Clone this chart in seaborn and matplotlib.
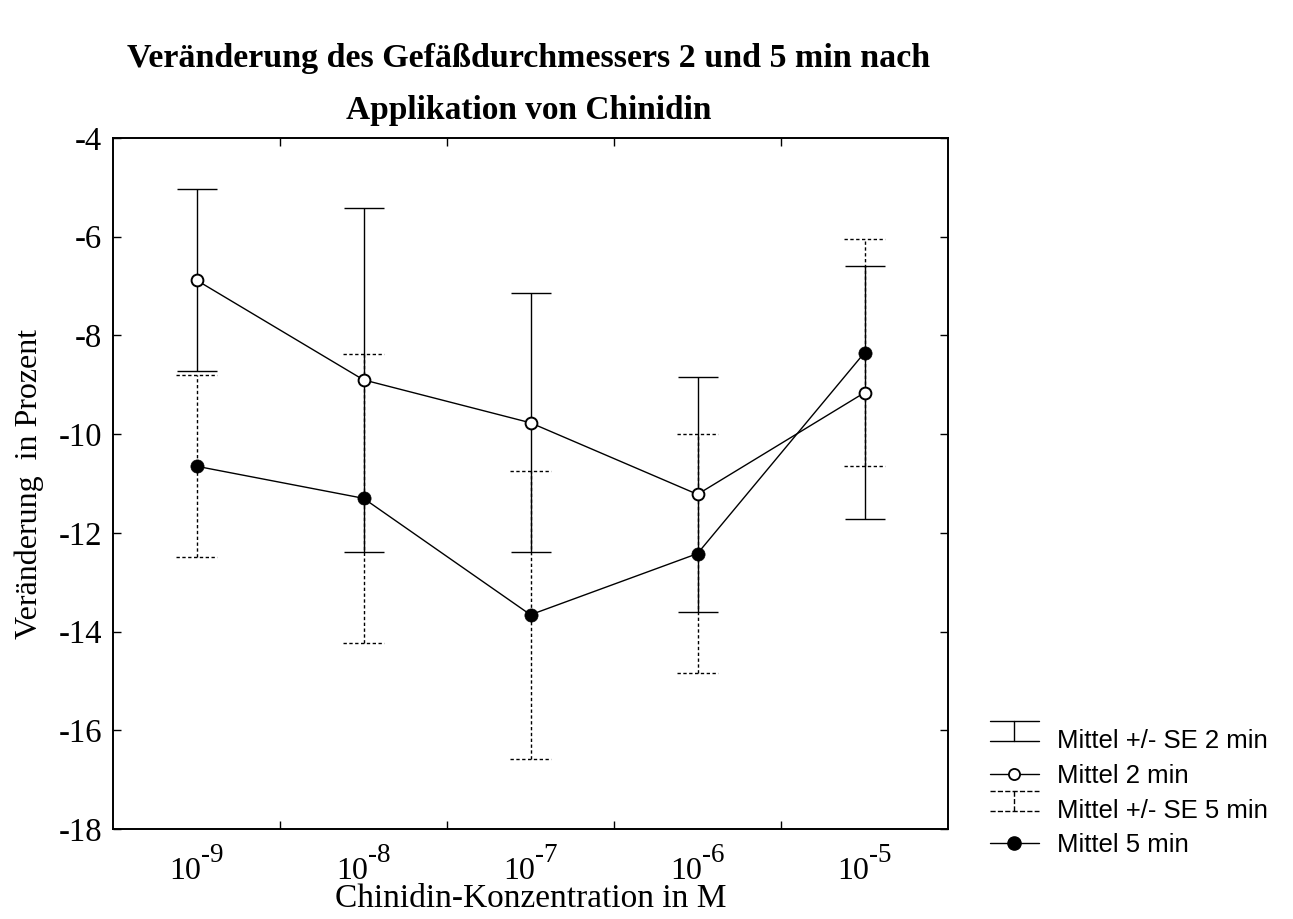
import numpy as np
import pandas as pd
import matplotlib
matplotlib.use("Agg")
import matplotlib.pyplot as plt
import seaborn as sns
from matplotlib.lines import Line2D
from matplotlib.legend_handler import HandlerBase

# ---- data ----
conc_base = ["10", "10", "10", "10", "10"]
conc_exp = ["-9", "-8", "-7", "-6", "-5"]
mean_2min = [-6.88, -8.90, -9.77, -11.22, -9.16]
se_2min = [1.85, 3.48, 2.62, 2.38, 2.56]
mean_5min = [-10.65, -11.30, -13.66, -12.42, -8.35]
se_5min = [1.84, 2.93, 2.92, 2.42, 2.30]
yticks = [-18, -16, -14, -12, -10, -8, -6, -4]

title_lines = ["Veränderung des Gefäßdurchmessers 2 und 5 min nach",
               "Applikation von Chinidin"]
xlabel = "Chinidin-Konzentration in M"
ylabel = "Veränderung  in Prozent"
legend_labels = ["Mittel +/- SE 2 min", "Mittel 2 min",
                 "Mittel +/- SE 5 min", "Mittel 5 min"]

sns.set_style("ticks")
plt.rcParams["font.family"] = ["Liberation Serif", "DejaVu Serif"]
for k in ["text.color", "axes.labelcolor", "xtick.color", "ytick.color",
          "axes.edgecolor"]:
    plt.rcParams[k] = "black"

x = np.arange(len(conc_base))
df = pd.DataFrame({
    "x": np.concatenate([x, x]),
    "mean": mean_2min + mean_5min,
    "series": ["2 min"] * len(x) + ["5 min"] * len(x),
})

fig = plt.figure(figsize=(12.93, 9.19), dpi=100)
ax = fig.add_axes([113 / 1293, 1 - 829 / 919, (948 - 113) / 1293, (829 - 138) / 919])

# error bars
dash = (0, (2.4, 1.8))
ax.errorbar(x, mean_2min, yerr=se_2min, fmt="none", ecolor="black",
            elinewidth=1.0, capsize=14.5, capthick=1.0, zorder=2)
eb5 = ax.errorbar(x, mean_5min, yerr=se_5min, fmt="none", ecolor="black",
                  elinewidth=1.0, capsize=0, zorder=2)
for ln in eb5.lines[2]:
    ln.set_linestyle(dash)
for xi, m, s in zip(x, mean_5min, se_5min):
    for yv in (m - s, m + s):
        ax.plot([xi - 0.12, xi + 0.12], [yv, yv], color="black", lw=1.0,
                linestyle=dash, zorder=2)

# mean lines with markers
sns.lineplot(data=df[df.series == "2 min"], x="x", y="mean", ax=ax, color="black",
             lw=1.0, marker="o", markersize=8.5, markerfacecolor="white",
             markeredgecolor="black", markeredgewidth=1.4, zorder=4, legend=False)
sns.lineplot(data=df[df.series == "5 min"], x="x", y="mean", ax=ax, color="black",
             lw=1.0, marker="o", markersize=9.5, markerfacecolor="black",
             markeredgecolor="black", markeredgewidth=0.5, zorder=4, legend=False)

ax.set_xlim(-0.5, len(x) - 0.5)
ax.set_ylim(-18, -4)
ax.set_yticks(yticks)
ax.set_yticklabels([str(v) for v in yticks])
ax.set_xticks(x)
ax.set_xticklabels([""] * len(x))
ax.set_xticks(np.arange(len(x) - 1) + 0.5, minor=True)
ax.tick_params(axis="x", which="major", length=0)
ax.tick_params(axis="x", which="minor", length=6, direction="in", top=True,
               bottom=True, width=1.0)
ax.tick_params(axis="y", which="major", length=6, direction="in", left=True,
               right=True, labelsize=23.5, width=1.0, pad=8)
for sp in ax.spines.values():
    sp.set_visible(True)
    sp.set_linewidth(1.4)
    sp.set_color("black")

# x tick labels: 10 with raised exponent
xtr = ax.get_xaxis_transform()
for xi, b, e in zip(x, conc_base, conc_exp):
    ax.annotate(b, xy=(xi, 0), xycoords=xtr, xytext=(3, -36), textcoords="offset points",
                ha="right", va="baseline", fontsize=23)
    ax.annotate(e, xy=(xi, 0), xycoords=xtr, xytext=(3, -23.5), textcoords="offset points",
                ha="left", va="baseline", fontsize=19.5)

ax.set_xlabel(xlabel, fontsize=24, labelpad=36)
ax.set_ylabel(ylabel, fontsize=23, labelpad=10)

fig.text(529 / 1293, 1 - 58 / 919, title_lines[0], ha="center", va="center",
         fontsize=24.5, fontweight="bold")
fig.text(529 / 1293, 1 - 110 / 919, title_lines[1], ha="center", va="center",
         fontsize=24, fontweight="bold")


# ---- legend ----
class ErrGlyph(HandlerBase):
    def create_artists(self, legend, orig_handle, xdescent, ydescent, width,
                       height, fontsize, trans):
        ls = orig_handle.get_linestyle()
        x0, x1 = -xdescent, -xdescent + width
        yc = -ydescent + height / 2 + 0.3 * fontsize
        h = 0.39 * fontsize
        arts = [
            Line2D([x0, x1], [yc + h, yc + h], color="black", lw=1.0, linestyle=ls),
            Line2D([x0, x1], [yc - h, yc - h], color="black", lw=1.0, linestyle=ls),
            Line2D([(x0 + x1) / 2] * 2, [yc - h, yc + h], color="black", lw=1.0,
                   linestyle=ls),
        ]
        for a in arts:
            a.set_transform(trans)
        return arts


h_err2 = Line2D([], [], color="black", linestyle="-")
h_mean2 = Line2D([], [], color="black", lw=1.0, marker="o", markersize=8,
                 markerfacecolor="white", markeredgewidth=1.3)
h_err5 = Line2D([], [], color="black", linestyle=(0, (1.2, 1.0)))
h_mean5 = Line2D([], [], color="black", lw=1.0, marker="o", markersize=9.5,
                 markerfacecolor="black")
fig.legend([h_err2, h_mean2, h_err5, h_mean5], legend_labels,
           handler_map={h_err2: ErrGlyph(), h_err5: ErrGlyph()},
           loc="upper left", bbox_to_anchor=(990 / 1293, 1 - 729 / 919),
           frameon=False, handlelength=1.9, handletextpad=0.7,
           labelspacing=0.42, borderpad=0, borderaxespad=0,
           prop={"family": "Liberation Sans", "size": 18.5})

fig.savefig("out.png", dpi=100, facecolor="white")
